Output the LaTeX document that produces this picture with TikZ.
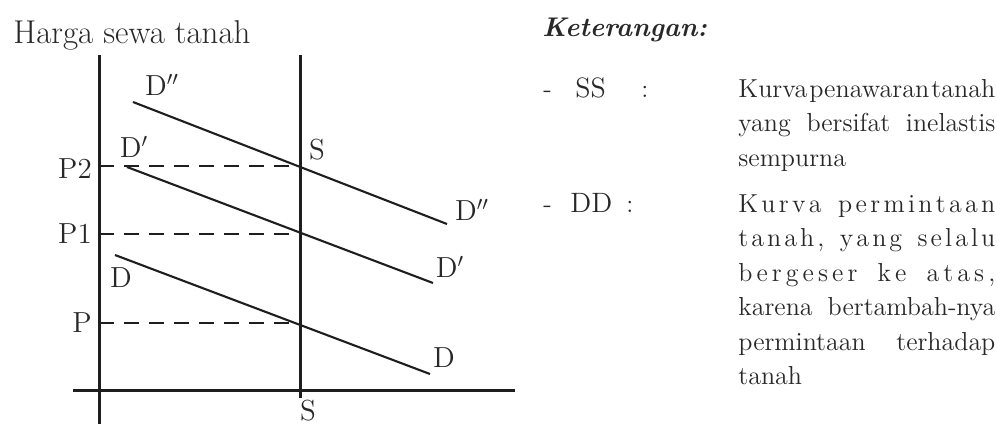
\documentclass[tikz,border=0pt]{standalone}
\usepackage{fontspec}
\usepackage{graphicx}
\usetikzlibrary{positioning}
\definecolor{inkgray}{RGB}{30,30,30}
\definecolor{textgray}{RGB}{40,40,40}
\newlength{\colw}
\setlength{\colw}{128.5pt}
\newcommand{\jline}[1]{\makebox[\colw][s]{#1}}
% letter-spaced line, filling the column
\ExplSyntaxOn
\bool_new:N \l_firstletter_bool
\NewDocumentCommand{\wideline}{m}{
  \seq_set_split:Nnn \l_tmpa_seq { ~ } {#1}
  \mode_leave_vertical:
  \hbox_to_wd:nn { \colw } {
    \seq_map_indexed_inline:Nn \l_tmpa_seq {
      \int_compare:nT { ##1 > 1 } { \hskip 0pt plus 5fil }
      \bool_set_true:N \l_firstletter_bool
      \tl_map_inline:nn { ##2 } {
        \bool_if:NF \l_firstletter_bool { \hskip 0pt plus 1fil }
        \bool_set_false:N \l_firstletter_bool
        ####1
      }
    }
  }
}
\ExplSyntaxOff
\tikzset{
  axis/.style={line width=1.5pt, inkgray},
  curve/.style={line width=1.05pt, inkgray},
  guide/.style={line width=1.3pt, inkgray, dash pattern=on 7.5pt off 5pt},
  lbl/.style={font=\fontsize{14.5}{16}\selectfont, text=textgray, inner sep=0pt},
  note/.style={font=\fontsize{13}{17.25}\selectfont, text=textgray, inner sep=0pt, anchor=base west},
}

\begin{document}
\begin{tikzpicture}[x=0.5pt, y=-0.5pt]
\useasboundingbox (0,0) rectangle (997,424);

% axes and supply curve
\coordinate (yTop) at (99,55);
\coordinate (yBot) at (99,424);
\coordinate (xLeft) at (73,390);
\coordinate (xRight) at (515,390);
\coordinate (sTop) at (300,55);
\coordinate (sBot) at (300,398);
\draw[axis] (yTop) -- (yBot);
\draw[axis] (xLeft) -- (xRight);
\draw[axis] (sTop) -- (sBot);

% price levels
\foreach \name/\yy in {p0/323, p1/234, p2/166} {
  \coordinate (\name-l) at (99,\yy);
  \coordinate (\name-r) at (300,\yy);
  \draw[guide] (\name-l) -- (\name-r);
}

% demand curves
\foreach \name/\xa/\ya/\xb/\yb in {d0/115/255/430/374, d1/127/167/433/283, d2/133/102/447/224} {
  \coordinate (\name-a) at (\xa,\ya);
  \coordinate (\name-b) at (\xb,\yb);
  \draw[curve] (\name-a) -- (\name-b);
}

\node[lbl, font=\fontsize{16.5}{18}\selectfont, anchor=base west] (ytitle) at (13,43) {Harga sewa tanah};
\node[lbl] (p2lbl) at (75,169) {P2};
\node[lbl] (p1lbl) at (75,234) {P1};
\node[lbl] (p0lbl) at (82,323) {P};
\node[lbl] (d2top) at (162,85) {D$''$};
\node[lbl] (d1top) at (134,147) {D$'$};
\node[lbl] (d0top) at (121,278) {D};
\node[lbl] (d2end) at (472,210) {D$''$};
\node[lbl] (d1end) at (450,267) {D$'$};
\node[lbl] (d0end) at (444,358) {D};
\node[lbl] (stop) at (317,150) {S};
\node[lbl] (sbot) at (308,411) {S};

% legend
\node[note, font=\fontsize{13.5}{17}\selectfont\bfseries\itshape] (ket) at (542,36) {Keterangan:};
\node[note] (ssdash) at (543,97) {-};
\node[note, font=\fontsize{14}{17}\selectfont] (ssname) at (575,97) {SS};
\node[note] (sscolon) at (641,97) {:};
\node[note] (sstext) at (738,97) {\parbox[t]{\colw}{%
  \resizebox{\colw}{\height}{Kurva\kern1pt penawaran\kern1pt tanah}\\
  \jline{yang bersifat inelastis}\\
  sempurna}};
\node[note] (dddash) at (543,212) {-};
\node[note, font=\fontsize{14}{17}\selectfont] (ddname) at (570,212) {DD};
\node[note] (ddcolon) at (626,212) {:};
\node[note] (ddtext) at (738,212) {\parbox[t]{\colw}{%
  \wideline{Kurva permintaan}\\
  \wideline{tanah, yang selalu}\\
  \wideline{bergeser ke atas,}\\
  \jline{karena bertambah-nya}\\
  \jline{permintaan terhadap}\\
  tanah}};
\end{tikzpicture}
\end{document}
